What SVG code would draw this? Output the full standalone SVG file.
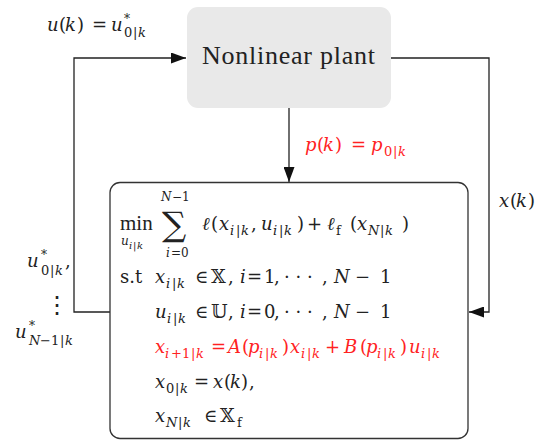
<svg xmlns="http://www.w3.org/2000/svg" width="544" height="441" viewBox="0 0 544 441">
<defs>
<style>
.ln{fill:none;stroke:#222;stroke-width:1.3}
</style>
<marker id="ah" markerUnits="userSpaceOnUse" viewBox="0 0 15 11" refX="15" refY="5.5" markerWidth="15" markerHeight="11" orient="auto">
<path d="M0,0 L15,5.5 L0,11 z" fill="#111"/>
</marker>
</defs>
<rect width="544" height="441" fill="#fff"/>

<g id="connectors">
<path class="ln" d="M110,312 H74 V58 H186" marker-end="url(#ah)"/>
<path class="ln" d="M391,58 H489 V312 H469" marker-end="url(#ah)"/>
<path class="ln" d="M289,108 V182" marker-end="url(#ah)"/>
</g>

<g id="plant">
<rect x="187" y="7" width="204" height="101" rx="11" fill="#e9e9e9"/>
<text x="202" y="64" font-family="Liberation Serif" font-size="26" fill="#222" textLength="173" lengthAdjust="spacing">Nonlinear plant</text>
</g>

<g id="label-u" fill="#222">
<text x="47" y="31" font-family="DejaVu Serif" font-size="18" font-style="italic">u</text>
<text x="59" y="31" font-family="DejaVu Serif" font-size="18">(</text>
<text x="65" y="31" font-family="DejaVu Serif" font-size="18" font-style="italic">k</text>
<text x="77" y="31" font-family="DejaVu Serif" font-size="18">)</text>
<text x="92" y="31" font-family="DejaVu Serif" font-size="18">=</text>
<text x="111" y="31" font-family="DejaVu Serif" font-size="18" font-style="italic">u</text>
<text x="124" y="23" font-family="DejaVu Serif" font-size="12">*</text>
<text x="124" y="37" font-family="DejaVu Serif" font-size="13">0</text>
<text x="133" y="37" font-family="DejaVu Serif" font-size="13">|</text>
<text x="138" y="37" font-family="DejaVu Serif" font-size="13" font-style="italic">k</text>
</g>

<g id="label-p" fill="#f22">
<text x="305" y="151" font-family="DejaVu Serif" font-size="18" font-style="italic">p</text>
<text x="317" y="151" font-family="DejaVu Serif" font-size="18">(</text>
<text x="323" y="151" font-family="DejaVu Serif" font-size="18" font-style="italic">k</text>
<text x="335" y="151" font-family="DejaVu Serif" font-size="18">)</text>
<text x="351" y="151" font-family="DejaVu Serif" font-size="18">=</text>
<text x="371" y="151" font-family="DejaVu Serif" font-size="18" font-style="italic">p</text>
<text x="384" y="156" font-family="DejaVu Serif" font-size="13">0</text>
<text x="393" y="156" font-family="DejaVu Serif" font-size="13">|</text>
<text x="398" y="156" font-family="DejaVu Serif" font-size="13" font-style="italic">k</text>
</g>

<g id="label-x" fill="#222">
<text x="499" y="207" font-family="DejaVu Serif" font-size="18" font-style="italic">x</text>
<text x="510" y="207" font-family="DejaVu Serif" font-size="18">(</text>
<text x="516" y="207" font-family="DejaVu Serif" font-size="18" font-style="italic">k</text>
<text x="528" y="207" font-family="DejaVu Serif" font-size="18">)</text>
</g>

<g id="label-useq" fill="#222">
<text x="27" y="267" font-family="DejaVu Serif" font-size="18" font-style="italic">u</text>
<text x="41" y="259" font-family="DejaVu Serif" font-size="12">*</text>
<text x="41" y="275" font-family="DejaVu Serif" font-size="13">0</text>
<text x="50" y="275" font-family="DejaVu Serif" font-size="13">|</text>
<text x="55" y="275" font-family="DejaVu Serif" font-size="13" font-style="italic">k</text>
<text x="65" y="267" font-family="DejaVu Serif" font-size="18">,</text>
<text x="45" y="313" font-family="DejaVu Serif" font-size="24">⋮</text>
<text x="15" y="338" font-family="DejaVu Serif" font-size="18" font-style="italic">u</text>
<text x="29" y="330" font-family="DejaVu Serif" font-size="12">*</text>
<text x="29" y="345" font-family="DejaVu Serif" font-size="13" font-style="italic">N</text>
<text x="40" y="345" font-family="DejaVu Serif" font-size="13">−1</text>
<text x="60" y="345" font-family="DejaVu Serif" font-size="13">|</text>
<text x="65" y="345" font-family="DejaVu Serif" font-size="13" font-style="italic">k</text>
</g>

<g id="mpc" fill="#222">
<rect x="110" y="182.5" width="358" height="256" rx="10" fill="none" stroke="#333" stroke-width="1.3"/>
<text x="120" y="230" font-family="Liberation Serif" font-size="21">min</text>
<text x="121" y="245" font-family="DejaVu Serif" font-size="12" font-style="italic">u</text>
<text x="129" y="249" font-family="DejaVu Serif" font-size="10" font-style="italic">i</text>
<text x="133" y="249" font-family="DejaVu Serif" font-size="10">|</text>
<text x="137" y="249" font-family="DejaVu Serif" font-size="10" font-style="italic">k</text>
<text x="162" y="236" font-family="DejaVu Serif" font-size="34">∑</text>
<text x="161" y="201" font-family="DejaVu Serif" font-size="12" font-style="italic">N</text>
<text x="172" y="201" font-family="DejaVu Serif" font-size="12">−1</text>
<text x="166" y="257" font-family="DejaVu Serif" font-size="12" font-style="italic">i</text>
<text x="171" y="257" font-family="DejaVu Serif" font-size="12">=0</text>

<text x="202" y="230" font-family="DejaVu Serif" font-size="18" font-style="italic">ℓ</text>
<text x="211" y="230" font-family="DejaVu Serif" font-size="18">(</text>
<text x="219" y="230" font-family="DejaVu Serif" font-size="18" font-style="italic">x</text>
<text x="230" y="235" font-family="DejaVu Serif" font-size="13" font-style="italic">i</text>
<text x="236" y="235" font-family="DejaVu Serif" font-size="13">|</text>
<text x="241" y="235" font-family="DejaVu Serif" font-size="13" font-style="italic">k</text>
<text x="251" y="230" font-family="DejaVu Serif" font-size="18">,</text>
<text x="261" y="230" font-family="DejaVu Serif" font-size="18" font-style="italic">u</text>
<text x="273" y="235" font-family="DejaVu Serif" font-size="13" font-style="italic">i</text>
<text x="279" y="235" font-family="DejaVu Serif" font-size="13">|</text>
<text x="284" y="235" font-family="DejaVu Serif" font-size="13" font-style="italic">k</text>
<text x="297" y="230" font-family="DejaVu Serif" font-size="18">)</text>
<text x="307" y="230" font-family="DejaVu Serif" font-size="18">+</text>
<text x="327" y="230" font-family="DejaVu Serif" font-size="18" font-style="italic">ℓ</text>
<text x="336" y="235" font-family="DejaVu Serif" font-size="13">f</text>
<text x="350" y="230" font-family="DejaVu Serif" font-size="18">(</text>
<text x="357" y="230" font-family="DejaVu Serif" font-size="18" font-style="italic">x</text>
<text x="368" y="235" font-family="DejaVu Serif" font-size="13" font-style="italic">N</text>
<text x="380" y="235" font-family="DejaVu Serif" font-size="13">|</text>
<text x="385" y="235" font-family="DejaVu Serif" font-size="13" font-style="italic">k</text>
<text x="402" y="230" font-family="DejaVu Serif" font-size="18">)</text>

<text x="120" y="283" font-family="DejaVu Serif" font-size="18">s.t</text>
<text x="155" y="283" font-family="DejaVu Serif" font-size="18" font-style="italic">x</text>
<text x="166" y="288" font-family="DejaVu Serif" font-size="13" font-style="italic">i</text>
<text x="172" y="288" font-family="DejaVu Serif" font-size="13">|</text>
<text x="177" y="288" font-family="DejaVu Serif" font-size="13" font-style="italic">k</text>
<text x="195" y="283" font-family="DejaVu Serif" font-size="18">∈</text>
<text x="211" y="283" font-family="DejaVu Serif" font-size="19">𝕏</text>
<text x="228" y="283" font-family="DejaVu Serif" font-size="18">,</text>
<text x="240" y="283" font-family="DejaVu Serif" font-size="18" font-style="italic">i</text>
<text x="247" y="283" font-family="DejaVu Serif" font-size="18">=</text>
<text x="264" y="283" font-family="DejaVu Serif" font-size="18">1</text>
<text x="274" y="283" font-family="DejaVu Serif" font-size="18">,</text>
<text x="284" y="283" font-family="DejaVu Serif" font-size="18">· · ·</text>
<text x="322" y="283" font-family="DejaVu Serif" font-size="18">,</text>
<text x="334" y="283" font-family="DejaVu Serif" font-size="18" font-style="italic">N</text>
<text x="355" y="283" font-family="DejaVu Serif" font-size="18">−</text>
<text x="380" y="283" font-family="DejaVu Serif" font-size="18">1</text>

<text x="155" y="318" font-family="DejaVu Serif" font-size="18" font-style="italic">u</text>
<text x="167" y="323" font-family="DejaVu Serif" font-size="13" font-style="italic">i</text>
<text x="173" y="323" font-family="DejaVu Serif" font-size="13">|</text>
<text x="178" y="323" font-family="DejaVu Serif" font-size="13" font-style="italic">k</text>
<text x="195" y="318" font-family="DejaVu Serif" font-size="18">∈</text>
<text x="211" y="318" font-family="DejaVu Serif" font-size="19">𝕌</text>
<text x="228" y="318" font-family="DejaVu Serif" font-size="18">,</text>
<text x="240" y="318" font-family="DejaVu Serif" font-size="18" font-style="italic">i</text>
<text x="247" y="318" font-family="DejaVu Serif" font-size="18">=</text>
<text x="264" y="318" font-family="DejaVu Serif" font-size="18">0</text>
<text x="274" y="318" font-family="DejaVu Serif" font-size="18">,</text>
<text x="284" y="318" font-family="DejaVu Serif" font-size="18">· · ·</text>
<text x="322" y="318" font-family="DejaVu Serif" font-size="18">,</text>
<text x="334" y="318" font-family="DejaVu Serif" font-size="18" font-style="italic">N</text>
<text x="355" y="318" font-family="DejaVu Serif" font-size="18">−</text>
<text x="380" y="318" font-family="DejaVu Serif" font-size="18">1</text>

<g fill="#f22">
<text x="155" y="353" font-family="DejaVu Serif" font-size="18" font-style="italic">x</text>
<text x="165" y="358" font-family="DejaVu Serif" font-size="13" font-style="italic">i</text>
<text x="171" y="358" font-family="DejaVu Serif" font-size="13">+1</text>
<text x="191" y="358" font-family="DejaVu Serif" font-size="13">|</text>
<text x="196" y="358" font-family="DejaVu Serif" font-size="13" font-style="italic">k</text>
<text x="211" y="353" font-family="DejaVu Serif" font-size="18">=</text>
<text x="228" y="353" font-family="DejaVu Serif" font-size="18" font-style="italic">A</text>
<text x="242" y="353" font-family="DejaVu Serif" font-size="18">(</text>
<text x="248" y="353" font-family="DejaVu Serif" font-size="18" font-style="italic">p</text>
<text x="259" y="358" font-family="DejaVu Serif" font-size="13" font-style="italic">i</text>
<text x="265" y="358" font-family="DejaVu Serif" font-size="13">|</text>
<text x="270" y="358" font-family="DejaVu Serif" font-size="13" font-style="italic">k</text>
<text x="282" y="353" font-family="DejaVu Serif" font-size="18">)</text>
<text x="290" y="353" font-family="DejaVu Serif" font-size="18" font-style="italic">x</text>
<text x="301" y="358" font-family="DejaVu Serif" font-size="13" font-style="italic">i</text>
<text x="307" y="358" font-family="DejaVu Serif" font-size="13">|</text>
<text x="312" y="358" font-family="DejaVu Serif" font-size="13" font-style="italic">k</text>
<text x="325" y="353" font-family="DejaVu Serif" font-size="18">+</text>
<text x="344" y="353" font-family="DejaVu Serif" font-size="18" font-style="italic">B</text>
<text x="360" y="353" font-family="DejaVu Serif" font-size="18">(</text>
<text x="366" y="353" font-family="DejaVu Serif" font-size="18" font-style="italic">p</text>
<text x="377" y="358" font-family="DejaVu Serif" font-size="13" font-style="italic">i</text>
<text x="383" y="358" font-family="DejaVu Serif" font-size="13">|</text>
<text x="388" y="358" font-family="DejaVu Serif" font-size="13" font-style="italic">k</text>
<text x="400" y="353" font-family="DejaVu Serif" font-size="18">)</text>
<text x="409" y="353" font-family="DejaVu Serif" font-size="18" font-style="italic">u</text>
<text x="421" y="358" font-family="DejaVu Serif" font-size="13" font-style="italic">i</text>
<text x="427" y="358" font-family="DejaVu Serif" font-size="13">|</text>
<text x="432" y="358" font-family="DejaVu Serif" font-size="13" font-style="italic">k</text>
</g>

<text x="155" y="388" font-family="DejaVu Serif" font-size="18" font-style="italic">x</text>
<text x="166" y="393" font-family="DejaVu Serif" font-size="13">0</text>
<text x="175" y="393" font-family="DejaVu Serif" font-size="13">|</text>
<text x="180" y="393" font-family="DejaVu Serif" font-size="13" font-style="italic">k</text>
<text x="194" y="388" font-family="DejaVu Serif" font-size="18">=</text>
<text x="213" y="388" font-family="DejaVu Serif" font-size="18" font-style="italic">x</text>
<text x="224" y="388" font-family="DejaVu Serif" font-size="18">(</text>
<text x="230" y="388" font-family="DejaVu Serif" font-size="18" font-style="italic">k</text>
<text x="241" y="388" font-family="DejaVu Serif" font-size="18">)</text>
<text x="249" y="388" font-family="DejaVu Serif" font-size="18">,</text>

<text x="155" y="422" font-family="DejaVu Serif" font-size="18" font-style="italic">x</text>
<text x="166" y="427" font-family="DejaVu Serif" font-size="13" font-style="italic">N</text>
<text x="178" y="427" font-family="DejaVu Serif" font-size="13">|</text>
<text x="183" y="427" font-family="DejaVu Serif" font-size="13" font-style="italic">k</text>
<text x="204" y="422" font-family="DejaVu Serif" font-size="18">∈</text>
<text x="220" y="422" font-family="DejaVu Serif" font-size="19">𝕏</text>
<text x="237" y="427" font-family="DejaVu Serif" font-size="13">f</text>
</g>
</svg>
